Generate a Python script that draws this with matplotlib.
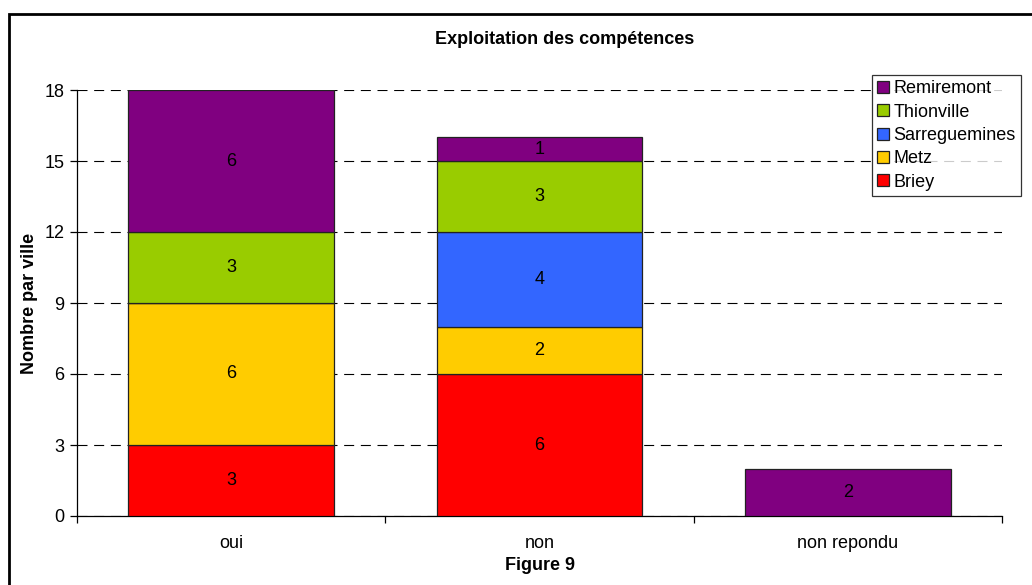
import matplotlib.pyplot as plt
from matplotlib.patches import Rectangle
import numpy as np

plt.rcParams['font.family'] = ['Liberation Sans', 'DejaVu Sans']

categories = ['oui', 'non', 'non repondu']
cities = ['Briey', 'Metz', 'Sarreguemines', 'Thionville', 'Remiremont']
briey = [3, 6, 0]
metz = [6, 2, 0]
sarreguemines = [0, 4, 0]
thionville = [3, 3, 0]
remiremont = [6, 1, 2]
colors = ['#FF0000', '#FFCC00', '#3366FF', '#99CC00', '#800080']

series = [briey, metz, sarreguemines, thionville, remiremont]
FS = 13

fig = plt.figure(figsize=(10.32, 5.85), dpi=100)
ax = fig.add_axes([77 / 1032, 1 - 516 / 585, (1002 - 77) / 1032, (516 - 90) / 585])

x = np.arange(len(categories))
bottom = np.zeros(len(categories))
handles = []
for name, vals, col in zip(cities, series, colors):
    vals = np.array(vals, dtype=float)
    bars = ax.bar(x, vals, width=0.667, bottom=bottom, color=col,
                  edgecolor='#222222', linewidth=0.9, label=name, zorder=3)
    for xi, v, b in zip(x, vals, bottom):
        if v > 0:
            ax.text(xi, b + v / 2, f'{int(v)}', ha='center', va='center',
                    fontsize=FS, zorder=4)
    handles.append(bars)
    bottom += vals

ax.set_xlim(-0.5, 2.5)
ax.set_ylim(0, 18)
ax.set_yticks(range(0, 19, 3))
ax.yaxis.grid(True, linestyle=(0, (9, 6)), color='black', linewidth=0.8, zorder=0)
ax.set_axisbelow(True)

ax.set_xticks(x)
ax.set_xticklabels(categories, fontsize=FS)
ax.tick_params(axis='x', length=0, pad=14)
ax.set_xticks([-0.5, 0.5, 1.5, 2.5], minor=True)
ax.tick_params(axis='x', which='minor', length=5, width=0.9, direction='out')
ax.tick_params(axis='y', length=5, width=0.9, labelsize=FS, pad=4)

for s in ['top', 'right']:
    ax.spines[s].set_visible(False)
ax.spines['left'].set_linewidth(0.9)
ax.spines['bottom'].set_linewidth(0.9)

fig.text(565 / 1032, 1 - 40 / 585, 'Exploitation des compétences',
         ha='center', va='center', fontsize=FS, fontweight='bold')
fig.text(30 / 1032, 1 - 303 / 585, 'Nombre par ville', rotation=90,
         ha='center', va='center', fontsize=FS, fontweight='bold')
fig.text(540 / 1032, 1 - 566 / 585, 'Figure 9',
         ha='center', va='center', fontsize=FS, fontweight='bold')

leg = ax.legend(handles[::-1], cities[::-1], loc='upper left',
                bbox_to_anchor=(872 / 1032, 1 - 75 / 585), bbox_transform=fig.transFigure,
                fontsize=FS, frameon=True, fancybox=False, handlelength=0.65,
                handleheight=0.65, handletextpad=0.25, labelspacing=0.35,
                borderpad=0.3, borderaxespad=0)
leg.get_frame().set_edgecolor('black')
leg.get_frame().set_linewidth(0.9)

# outer chart frame
fig.patches.append(Rectangle((9 / 1032, -0.1), 1.2, 1 - 14 / 585 + 0.1,
                             transform=fig.transFigure, fill=False,
                             edgecolor='black', linewidth=2))

fig.savefig('out.png', dpi=100)
